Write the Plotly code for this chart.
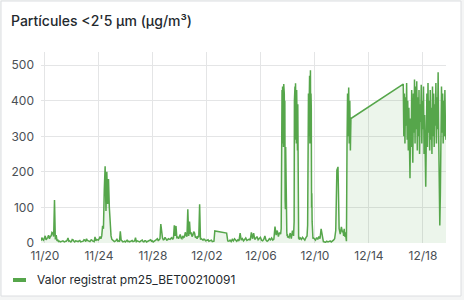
import pandas as pd
import plotly.graph_objects as go

# ---------------- data ----------------
# Each segment: start time, sampling step, values (µg/m³)
pm_a_start, pm_a_step = "2023-11-19 17:00", "90min"
pm_a = [6, 15, 10, 8, 14, 20, 9, 12, 16, 22, 12, 18, 20, 30, 28, 18, 121, 10, 22, 6,
        8, 4, 5, 3, 4, 7, 6, 4, 3, 5, 5, 8, 14, 5, 6, 3, 4, 10, 9, 5,
        3, 6, 5, 3, 4, 6, 7, 3, 3, 5, 5, 9, 8, 4, 12, 7, 6, 3, 4, 8,
        9, 6, 5, 4, 17, 6, 10, 8, 8, 12, 18, 12, 20, 48, 40, 150, 216, 90, 200, 110,
        180, 100, 30, 20, 10, 8, 8, 4, 5, 7, 12, 5, 6, 4, 33, 8, 6, 3, 4, 5,
        3, 6, 8, 4, 5, 3, 4, 6, 7, 4, 5, 6, 15, 4, 6, 5, 4, 3, 5, 7,
        8, 4, 3, 6, 6, 3, 4, 6, 5, 8, 9, 5, 6, 3, 4, 7, 8, 10, 12, 6,
        9, 12, 53, 18, 14, 9, 10, 16, 12, 8, 9, 12, 11, 10, 13, 15, 10, 14, 50, 20,
        48, 15, 16, 12, 18, 24, 14, 12, 20, 15, 17, 30, 22, 18, 95, 20, 60, 25, 30, 18,
        22, 32, 28, 15, 18, 12, 20, 16, 109, 10, 12, 9, 8, 11, 10, 6, 7, 9, 9, 5,
        6, 8, 8, 4, 5, 5, 34]

pm_b_start, pm_b_step = "2023-12-03 11:00", "2h"
pm_b = [28, 6, 5, 8, 4, 10, 6, 12, 7, 5, 9, 6,
        28,
        8, 12, 6, 10, 14, 7, 9, 11, 8,
        30, 12, 28,
        10, 14, 18, 9, 12, 16, 8,
        6, 10, 20, 8, 5, 7, 12,
        9, 14, 8, 11,
        46,
        22, 35, 18, 30, 25]

pm_c1_start, pm_c1_step = "2023-12-07 12:00", "30min"
pm_c1 = [40, 380, 300, 430, 280, 440, 320, 410, 270, 447, 350, 420, 290, 400,
         120, 95, 270, 110, 60, 100, 30, 20, 25, 15, 18]

pm_c2_start, pm_c2_step = "2023-12-08 02:00", "2h"
pm_c2 = [15, 28, 12, 35, 20]

pm_c3_start, pm_c3_step = "2023-12-08 11:00", "30min"
pm_c3 = [60, 400, 300, 440, 290, 449, 310, 420, 280, 430, 330, 410, 260, 390,
         40, 20, 12, 18, 10]

pm_c4_start, pm_c4_step = "2023-12-08 22:00", "2h"
pm_c4 = [14, 10, 16, 12, 8, 15, 20]

pm_c5_start, pm_c5_step = "2023-12-09 11:00", "30min"
pm_c5 = [50, 350, 260, 420, 300, 450, 330, 470, 280, 440, 486, 310, 420, 380,
         100, 140, 60, 30, 20, 12, 15]

pm_c6_start, pm_c6_step = "2023-12-09 23:00", "2h"
pm_c6 = [12, 8, 15, 10, 18, 12, 40, 15, 4, 3, 2, 5, 3, 4, 6, 3, 5, 8, 12, 35,
         205, 214, 40, 25, 45, 30]

pm_c7_start, pm_c7_step = "2023-12-12 02:00", "1h"
pm_c7 = [35, 20, 40, 18, 30, 12, 5, 270, 420, 300, 437, 280, 400, 260, 350]

pm_d_start, pm_d_step = "2023-12-16 13:00", "1h"
pm_d = [447, 300, 420, 280, 410, 330, 450, 290, 400, 260,
        380, 240, 182, 350, 270, 430, 300, 226, 420, 310,
        460, 280, 440, 320, 455, 260, 410, 300, 430, 250,
        390, 340, 445, 280, 400, 320, 440, 250, 360, 205,
        158, 300, 420, 270, 450, 310, 400, 260, 430, 290,
        380, 250, 440, 300, 420, 270, 390, 330, 450, 280,
        410, 320, 480, 300, 83, 49, 140, 290, 440, 310,
        420, 280, 400, 300, 430, 320, 290]

series_name = "Valor registrat pm25_BET00210091"
title_text = "Partícules &lt;2'5 µm (µg/m³)"
y_ticks = [0, 100, 200, 300, 400, 500]
x_range = ["2023-11-19 17:00", "2023-12-19 17:00"]
x_tick0 = "2023-11-20"

segments = [
    (pm_a_start, pm_a_step, pm_a),
    (pm_b_start, pm_b_step, pm_b),
    (pm_c1_start, pm_c1_step, pm_c1),
    (pm_c2_start, pm_c2_step, pm_c2),
    (pm_c3_start, pm_c3_step, pm_c3),
    (pm_c4_start, pm_c4_step, pm_c4),
    (pm_c5_start, pm_c5_step, pm_c5),
    (pm_c6_start, pm_c6_step, pm_c6),
    (pm_c7_start, pm_c7_step, pm_c7),
    (pm_d_start, pm_d_step, pm_d),
]

times, values = [], []
for start, step, vals in segments:
    times.extend(pd.date_range(start, periods=len(vals), freq=step))
    values.extend(vals)

# ---------------- layout geometry ----------------
W, H = 464, 300
L, R, T, B = 41, 18, 52, 57
PW, PH = W - L - R, H - T - B


def px_x(p):
    return (p - L) / PW


def px_y(p):
    return 1 - (p - T) / PH


GREEN = "#56A64B"
TEXT = "#24292e"
TICK = "#4a4f55"
GRID = "#e4e5e6"
FONT = "Inter"

fig = go.Figure()
fig.add_trace(go.Scatter(
    x=times, y=values, mode="lines", name=series_name,
    line=dict(color=GREEN, width=1.5),
    fill="tozeroy", fillcolor="rgba(86,166,75,0.11)",
    showlegend=False,
))

fig.update_layout(
    width=W, height=H,
    margin=dict(l=L, r=R, t=T, b=B, pad=0),
    paper_bgcolor="#f4f5f5",
    plot_bgcolor="rgba(0,0,0,0)",
    font=dict(family=FONT, size=12, color=TICK),
    xaxis=dict(
        type="date", range=x_range, tick0=x_tick0, dtick=4 * 86400000,
        tickformat="%m/%d", showgrid=True, gridcolor=GRID, gridwidth=1,
        zeroline=False, showline=False, ticks="", ticklabelstandoff=4,
        tickfont=dict(family=FONT, size=12, color=TICK),
    ),
    yaxis=dict(
        range=[0, 537], tickvals=y_ticks, showgrid=True, gridcolor=GRID,
        gridwidth=1, zeroline=False, showline=False, ticks="",
        ticklabelstandoff=6,
        tickfont=dict(family=FONT, size=12, color=TICK),
    ),
    shapes=[
        dict(type="rect", xref="paper", yref="paper", layer="below",
             x0=px_x(1), x1=px_x(461), y0=px_y(296), y1=px_y(1),
             fillcolor="white", line=dict(color="#dcdee1", width=1)),
        dict(type="line", xref="paper", yref="paper",
             x0=px_x(13), x1=px_x(26), y0=px_y(280), y1=px_y(280),
             line=dict(color=GREEN, width=4)),
    ],
    annotations=[
        dict(text=title_text, xref="paper", yref="paper",
             x=px_x(9), y=px_y(20), xanchor="left", yanchor="middle",
             showarrow=False,
             font=dict(family=FONT, size=14, color=TEXT, weight=500)),
        dict(text=series_name, xref="paper", yref="paper",
             x=px_x(35), y=px_y(279), xanchor="left", yanchor="middle",
             showarrow=False,
             font=dict(family=FONT, size=12, color=TEXT)),
    ],
)

fig.write_html("out.html")
